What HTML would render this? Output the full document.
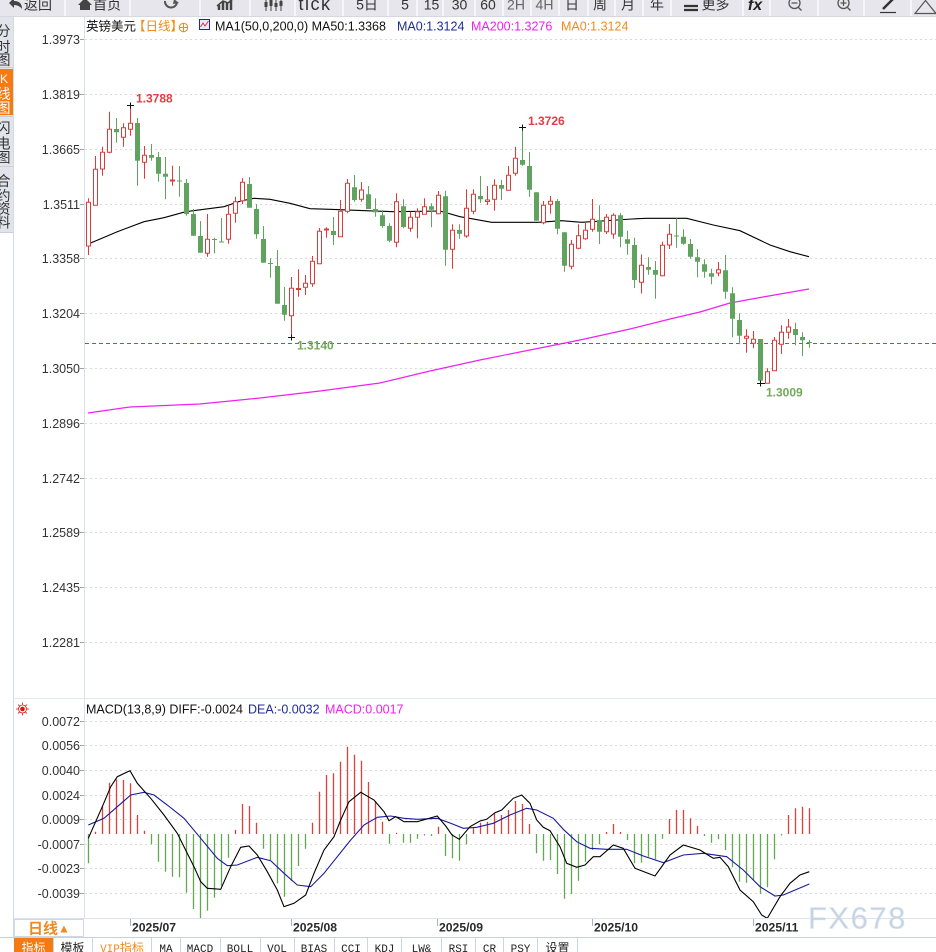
<!DOCTYPE html>
<html><head><meta charset="utf-8"><style>
html,body{margin:0;padding:0;background:#fff;width:936px;height:952px;overflow:hidden}
svg{display:block}
text{font-family:"Liberation Sans","Noto Sans CJK SC",sans-serif}
.mono{font-family:"Liberation Mono","Noto Sans CJK SC",monospace}
</style></head><body>
<svg width="936" height="952" viewBox="0 0 936 952" xmlns="http://www.w3.org/2000/svg">
<rect x="0" y="0" width="936" height="952" fill="#fff"/>
<!-- toolbar -->
<rect x="0" y="0" width="936" height="16.5" fill="#e6e6ec"/>
<line x1="0" y1="16.5" x2="936" y2="16.5" stroke="#d6d8de" stroke-width="1"/>
<g stroke="#fafafc" stroke-width="1.6">
<path d="M65 0V16M130 0V16M200 0V16M250 0V16M295 0V16M343 0V16M388 0V16M417 0V16M443 0V16M475 0V16M503 0V16M531 0V16M559 0V16M588 0V16M615 0V16M643 0V16M671 0V16M743 0V16M770 0V16M818 0V16M864 0V16M911 0V16"/>
</g>
<g fill="#333" font-size="14">
<text x="38" y="9.5" text-anchor="middle">返回</text>
<text x="107" y="9.5" text-anchor="middle">首页</text>
<text x="315" y="10" text-anchor="middle" font-size="18" letter-spacing="1.5">tick</text>
<text x="367" y="9.5" text-anchor="middle">5日</text>
<text x="405" y="9.5" text-anchor="middle">5</text>
<text x="431.5" y="9.5" text-anchor="middle">15</text>
<text x="459.5" y="9.5" text-anchor="middle">30</text>
<text x="488" y="9.5" text-anchor="middle">60</text>
<text x="516" y="9.5" text-anchor="middle" fill="#666">2H</text>
<text x="544.5" y="9.5" text-anchor="middle" fill="#666">4H</text>
<text x="572" y="9.5" text-anchor="middle">日</text>
<text x="600" y="9.5" text-anchor="middle">周</text>
<text x="628" y="9.5" text-anchor="middle">月</text>
<text x="657" y="9.5" text-anchor="middle">年</text>
<text x="715.5" y="9.5" text-anchor="middle">更多</text>
<text x="755" y="10" text-anchor="middle" font-size="16" font-weight="bold" font-style="italic" fill="#222">fx</text>
</g>
<!-- toolbar icons -->
<path d="M9 3 L14 -2 L14 1 Q22 1 22 9 Q19 5 14 5 L14 8 Z" fill="#444"/>
<path d="M78 5 L85 -2 L92 5 L90 5 L90 10 L80 10 L80 5 Z" fill="#444"/>
<path d="M165 1 A6 6 0 1 0 177 2" fill="none" stroke="#555" stroke-width="2"/>
<path d="M174 -1 L179 3 L173 4 Z" fill="#555"/>
<path d="M219 10V5M223 10V2M227 10V3M231 10V0" stroke="#444" stroke-width="2.5"/>
<path d="M217 6 L223 1 L228 3 L235 -3" fill="none" stroke="#444" stroke-width="1.5"/>
<path d="M266 -2V11M271 -2V11M276 -2V11M281 -2V11" stroke="#444" stroke-width="1"/>
<path d="M264.5 2h3v5h-3zM269.5 0h3v6h-3zM274.5 3h3v4h-3zM279.5 1h3v5h-3z" fill="#444"/>
<path d="M684 6h14M684 10h14" stroke="#333" stroke-width="2.2"/>
<circle cx="794.5" cy="3" r="5.5" fill="none" stroke="#555" stroke-width="1.3"/>
<path d="M791.5 3h6M798.5 7.5l3 3" stroke="#555" stroke-width="1.3"/>
<circle cx="843.5" cy="3" r="5.5" fill="none" stroke="#555" stroke-width="1.3"/>
<path d="M840.5 3h6M843.5 0v6M847.5 7.5l3 3" stroke="#555" stroke-width="1.3"/>
<path d="M883 9 L893 -1" stroke="#333" stroke-width="2.5"/>
<path d="M880 12.5h16" stroke="#333" stroke-width="1.2"/>
<path d="M915 13.5 L925.5 0.5 L936 13.5 Z" fill="none" stroke="#555" stroke-width="1.2"/>
<!-- left sidebar -->
<rect x="0" y="17" width="13" height="216" fill="#e1e4ea"/>
<rect x="0" y="69" width="13" height="46" fill="#f57a12"/>
<path d="M0 67.5h13M0 116.5h13M0 166.5h13M0 232.5h13" stroke="#c9ced8" stroke-width="1"/>
<line x1="13.5" y1="17" x2="13.5" y2="937" stroke="#d3dbe6" stroke-width="1"/>
<g font-size="14" text-anchor="middle" fill="#333">
<text x="3.5" y="36">分</text><text x="3.5" y="52">时</text><text x="3.5" y="65">图</text>
<text x="4" y="83" fill="#fff" font-family="Liberation Serif" font-size="12">K</text><text x="3.5" y="99" fill="#fff">线</text><text x="3.5" y="113" fill="#fff">图</text>
<text x="3.5" y="133">闪</text><text x="3.5" y="148.5">电</text><text x="3.5" y="162.5">图</text>
<text x="3.5" y="186">合</text><text x="3.5" y="201">约</text><text x="3.5" y="214">资</text><text x="3.5" y="227.5">料</text>
</g>
<!-- axes frames -->
<line x1="84.5" y1="17" x2="84.5" y2="919" stroke="#d9e1eb" stroke-width="1"/>
<line x1="14" y1="698.5" x2="936" y2="698.5" stroke="#e3e8ef" stroke-width="1"/>
<!-- price grid -->
<g stroke="#dadada" stroke-width="1" stroke-dasharray="2 3">
<path d="M85 39.5H936M85 94.5H936M85 149.5H936M85 204.5H936M85 258.5H936M85 313.5H936M85 368.5H936M85 423.5H936M85 478.5H936M85 532.5H936M85 587.5H936M85 642.5H936"/>
<path d="M85 721.5H936M85 745.5H936M85 770.5H936M85 795.5H936M85 819.5H936M85 844.5H936M85 868.5H936M85 893.5H936"/>
</g>
<g stroke="#9aa4b0" stroke-width="1">
<path d="M80 39.5h4M80 94.5h4M80 149.5h4M80 204.5h4M80 258.5h4M80 313.5h4M80 368.5h4M80 423.5h4M80 478.5h4M80 532.5h4M80 587.5h4M80 642.5h4"/>
<path d="M80 721.5h4M80 745.5h4M80 770.5h4M80 795.5h4M80 819.5h4M80 844.5h4M80 868.5h4M80 893.5h4"/>
</g>
<g font-size="12.5" fill="#333" text-anchor="end">
<text x="80" y="44">1.3973</text><text x="80" y="99">1.3819</text><text x="80" y="154">1.3665</text><text x="80" y="209">1.3511</text>
<text x="80" y="263">1.3358</text><text x="80" y="318">1.3204</text><text x="80" y="373">1.3050</text><text x="80" y="428">1.2896</text>
<text x="80" y="483">1.2742</text><text x="80" y="537">1.2589</text><text x="80" y="592">1.2435</text><text x="80" y="647">1.2281</text>
<text x="80" y="726">0.0072</text><text x="80" y="750">0.0056</text><text x="80" y="775">0.0040</text><text x="80" y="800">0.0024</text>
<text x="80" y="824">0.0009</text><text x="80" y="849">-0.0007</text><text x="80" y="873">-0.0023</text><text x="80" y="898">-0.0039</text>
</g>
<!-- legend -->
<g font-size="12.5">
<text x="86" y="30.7" fill="#111">英镑美元</text>
<text x="133" y="30.7" fill="#f08a1e">【日线】</text>
<text x="215" y="30.7" fill="#111">MA1(50,0,200,0) MA50:1.3368</text>
<text x="397" y="30.7" fill="#1f2a9a">MA0:1.3124</text>
<text x="471" y="30.7" fill="#ee22ee">MA200:1.3276</text>
<text x="561" y="30.7" fill="#f08a1e">MA0:1.3124</text>
</g>
<circle cx="183.5" cy="27.5" r="4.2" fill="none" stroke="#f08a1e" stroke-width="1"/>
<path d="M179.3 27.5h8.4M183.5 23.3v8.4" stroke="#f08a1e" stroke-width="1"/>
<rect x="199.5" y="19.5" width="10" height="10" fill="#e6ecff" stroke="#1a2a9a" stroke-width="1"/>
<path d="M200.5 27 L203 23 L205 26 L208.5 21" fill="none" stroke="#d33" stroke-width="1"/>
<!-- MA lines -->
<polyline fill="none" stroke="#ee22ee" stroke-width="1.2" points="88,413 130,407 200,404 260,398 320,391 380,383 430,371 480,360 530,350 580,340 630,329 670,319 700,312 730,303 763,297 809,289"/>
<polyline fill="none" stroke="#000" stroke-width="1.1" points="88.3,244 117.3,231.7 144,221.7 164,217.7 185.7,211.7 224,206.7 240.7,201 254,198.3 270,199.3 290,203.3 310,208.7 330,209.3 393.3,211.7 440,211 460,216.7 475,219.3 491.7,222.3 538.3,222.3 561.7,220.7 581.7,222.3 631.7,219 646.7,218.3 686.7,218.3 713.3,225 740,230.7 770,245 790,251.7 809,256.7"/>
<!-- current price dashed -->
<line x1="85" y1="343.5" x2="936" y2="343.5" stroke="#3a6fc0" stroke-width="1" stroke-dasharray="4 3"/>
<!-- candles: wicks -->
<path fill="none" stroke="#dd3b3b" stroke-width="1" d="M88.5 198.3V255M95.5 156V205.3M102.5 146.7V175.7M109.5 111.7V153.3M123.5 123.3V146.7M130.5 106V135.7M144.5 146V178.7M172.5 165.7V185.7M207.5 214V256.7M228.5 206V243.7M235.5 196.7V222.7M242.5 178.3V204M291.5 277V337M298.5 269.3V296.7M305.5 275V295M312.5 256V286.7M319.5 228V263.7M326.5 227.3V237.7M340.5 200V236.7M347.5 179V213.3M361.5 182V201.7M396.5 193.3V247.3M410.5 211.7V231.7M417.5 208.3V238.3M424.5 198.3V214.3M438.5 191V213.7M452.5 224.3V268.7M466.5 189.3V237.7M473.5 189.3V214.3M487.5 186V205M494.5 179.3V210.7M508.5 166V190.3M515.5 146.7V175.7M543.5 201V224.3M550.5 196V213.7M571.5 240V269.3M578.5 224.3V249.3M585.5 223V239.7M592.5 199V231.7M606.5 214V234M613.5 213.3V238.7M641.5 254.5V293.5M662.5 241.7V276.3M669.5 224V249M718.5 262V276.3M746.5 329.3V352.7M753.5 331V348.3M767.5 368.3V383.3M774.5 337V370.7M781.5 325.3V354M788.5 319V338.7"/>
<path fill="none" stroke="#5fa35f" stroke-width="1" d="M116.5 118V142.7M137.5 118V185.7M151.5 144V160.7M158.5 152V181.7M165.5 157V199.3M179.5 166V196.7M186.5 179V215.7M193.5 209V236M200.5 221V252.7M214.5 237.7V253.3M221.5 218V242.5M249.5 177V207.7M256.5 204V238.7M263.5 226V262.7M270.5 258.3V277.7M277.5 250V303.7M284.5 287V320.7M333.5 217V245M354.5 175V201.7M368.5 186V209M375.5 198.3V216.7M382.5 210V227.7M389.5 223.3V242.3M403.5 199.3V228.3M431.5 203.3V227.3M445.5 190.7V265.7M459.5 224.3V238.7M480.5 176V202.7M501.5 180V200M522.5 127.5V165.7M529.5 152V196.7M536.5 192.3V220.7M557.5 199V234.3M564.5 232.3V271.7M599.5 205.3V244M620.5 213.3V247.3M627.5 230.7V254.7M634.5 237.7V288M648.5 257.3V274.7M655.5 261V298.7M676.5 218.3V247.7M683.5 229.3V244.7M690.5 239V258.7M697.5 249V277.3M704.5 259.3V277.7M711.5 268.7V284.3M725.5 255V298.7M732.5 287.3V337.3M739.5 313.3V344.3M760.5 339V383.5M795.5 322.7V345.3M802.5 332.3V356.3M809.5 340V347.7"/>
<!-- candle bodies -->
<path fill="#fff" stroke="#dd3b3b" stroke-width="1" d="M86.5 202.3h4v43.7h-4zM93.5 169.3h4v36h-4zM100.5 152.3h4v16.7h-4zM107.5 129.3h4v23h-4zM121.5 127.7h4v9.6h-4zM128.5 123.3h4v6h-4zM142.5 155.3h4v7h-4zM170.5 180h4v1h-4zM205.5 239.3h4v14h-4zM226.5 214.3h4v25h-4zM233.5 201.7h4v11.6h-4zM240.5 182.3h4v18.4h-4zM289.5 288.3h4v27.4h-4zM296.5 288.5h4v1h-4zM303.5 283.3h4v4h-4zM310.5 261.3h4v22.4h-4zM317.5 231.3h4v32.4h-4zM324.5 229h4v1h-4zM338.5 211.3h4v25.4h-4zM345.5 183.3h4v28h-4zM359.5 190h4v9.3h-4zM394.5 201.7h4v40.6h-4zM408.5 217.3h4v11h-4zM415.5 211.7h4v5.6h-4zM422.5 206.7h4v7.6h-4zM436.5 195.3h4v18.4h-4zM450.5 230.3h4v19h-4zM464.5 208.3h4v27.7h-4zM471.5 194.3h4v17h-4zM485.5 200h4v1.5h-4zM492.5 185.3h4v14h-4zM506.5 175.3h4v15h-4zM513.5 158.3h4v15h-4zM541.5 205.3h4v17.4h-4zM548.5 201.3h4v3h-4zM569.5 244.3h4v22h-4zM576.5 235.7h4v12.6h-4zM583.5 230.3h4v8.4h-4zM590.5 219.3h4v10h-4zM604.5 217.3h4v14.4h-4zM611.5 215.3h4v18.7h-4zM639.5 265.3h4v17h-4zM660.5 245.3h4v30.4h-4zM667.5 234.3h4v10.7h-4zM716.5 269.7h4v3.3h-4zM744.5 336.3h4v2h-4zM751.5 339.3h4v4h-4zM765.5 371.7h4v11.6h-4zM772.5 340.3h4v30.4h-4zM779.5 332.3h4v12h-4zM786.5 327h4v5.3h-4z"/>
<path fill="#5fa35f" d="M114 129h5v3.3h-5zM135 123h5v37.7h-5zM149 155h5v2.7h-5zM156 157h5v16.7h-5zM163 173.7h5v3h-5zM177 180.5h5v1h-5zM184 183h5v31h-5zM191 214h5v21.7h-5zM198 236h5v16.7h-5zM212 239h5v1h-5zM219 241.5h5v1h-5zM247 184h5v23.7h-5zM254 209h5v25.3h-5zM261 239h5v23.7h-5zM268 263h5v1h-5zM275 266h5v37.7h-5zM282 305h5v9.7h-5zM331 231h5v4h-5zM352 187.3h5v12.7h-5zM366 194.3h5v14.7h-5zM373 209h5v3.3h-5zM380 215.3h5v10.7h-5zM387 226h5v14.7h-5zM401 206.3h5v20.7h-5zM429 206.3h5v3.4h-5zM443 196.3h5v53.4h-5zM457 230h5v3.7h-5zM478 196h5v3.3h-5zM499 185h5v3.7h-5zM520 160h5v4.7h-5zM527 166h5v23.7h-5zM534 192.3h5v28.4h-5zM555 201h5v27.7h-5zM562 232.3h5v33.4h-5zM597 220h5v11.7h-5zM618 215.3h5v21.4h-5zM625 239.3h5v4.4h-5zM632 245h5v35h-5zM646 267h5v2.7h-5zM653 270h5v4.7h-5zM674 235.5h5v1h-5zM681 236.7h5v7h-5zM688 244h5v12.7h-5zM695 257.3h5v4.4h-5zM702 264.3h5v7.4h-5zM709 273.3h5v3.4h-5zM723 270.3h5v21.4h-5zM730 293.3h5v25.4h-5zM737 320h5v15.7h-5zM758 339h5v41.7h-5zM793 329h5v6h-5zM800 337h5v3.3h-5zM807 342h5v1h-5z"/>
<!-- extreme markers -->
<path stroke="#111" stroke-width="1" d="M127 105.5h7M130.5 102.5v6M288 337.5h7M291.5 334.5v6M519 127.5h7M522.5 124.5v6M757 383.5h8M760.5 380.5v6"/>
<g font-size="12" font-weight="bold">
<text x="136" y="102.5" fill="#e23c44">1.3788</text>
<text x="528" y="125" fill="#e23c44">1.3726</text>
<text x="297" y="349.5" fill="#74a85a">1.3140</text>
<text x="766" y="396.5" fill="#74a85a">1.3009</text>
</g>
<!-- MACD legend -->
<circle cx="22.5" cy="709" r="2.3" fill="#e01010"/>
<circle cx="22.5" cy="709" r="4" fill="none" stroke="#e01010" stroke-width="0.8"/>
<path d="M22.5 702.5v2M22.5 713.5v2M16 709h2M27 709h2M18 704.5l1.5 1.5M25.5 712l1.5 1.5M27 704.5l-1.5 1.5M19.5 712L18 713.5" stroke="#e01010" stroke-width="0.8"/>
<g font-size="12.5">
<text x="86" y="713.5" fill="#111">MACD(13,8,9) DIFF:-0.0024</text>
<text x="248" y="713.5" fill="#1f2a9a">DEA:-0.0032</text>
<text x="325" y="713.5" fill="#ee22ee">MACD:0.0017</text>
</g>
<!-- MACD histogram -->
<path fill="none" stroke="#e0403a" stroke-width="1.3" d="M95.5 834V831.7M102.5 834V806M109.5 834V782.7M116.5 834V779.3M123.5 834V780M130.5 834V783.3M137.5 834V815M144.5 834V830.7M235.5 834V830M242.5 834V804M249.5 834V806M256.5 834V822.7M312.5 834V822.7M319.5 834V791.7M326.5 834V775M333.5 834V773.3M340.5 834V761.7M347.5 834V746.7M354.5 834V754.7M361.5 834V760.7M368.5 834V782M375.5 834V801M382.5 834V821.7M396.5 834V832.7M438.5 834V826.7M473.5 834V828.3M480.5 834V822.7M487.5 834V821.7M494.5 834V813.3M501.5 834V815M508.5 834V810M515.5 834V801M522.5 834V804M529.5 834V824M606.5 834V832M613.5 834V824M620.5 834V832M669.5 834V819M676.5 834V810M683.5 834V810M690.5 834V818.3M697.5 834V826M788.5 834V815M795.5 834V808.3M802.5 834V806.7M809.5 834V808.3"/>
<path fill="none" stroke="#62a852" stroke-width="1.3" d="M88.5 834V863.3M151.5 834V844.3M158.5 834V861.7M165.5 834V871.7M172.5 834V876.7M179.5 834V877.3M186.5 834V892.7M193.5 834V909M200.5 834V918M207.5 834V910.7M214.5 834V897.7M221.5 834V886M228.5 834V857.7M263.5 834V848.7M270.5 834V860M277.5 834V883.3M284.5 834V896.7M291.5 834V881M298.5 834V866M305.5 834V848.7M389.5 834V843.7M403.5 834V842.7M410.5 834V842.7M417.5 834V838.7M424.5 834V835.5M431.5 834V836M445.5 834V856M452.5 834V858.3M459.5 834V860.7M466.5 834V844.3M536.5 834V853.3M543.5 834V860.7M550.5 834V860M557.5 834V874M564.5 834V898.7M571.5 834V894M578.5 834V880.7M585.5 834V861.7M592.5 834V850M599.5 834V844.3M627.5 834V840M634.5 834V863.3M641.5 834V862.7M648.5 834V856.7M655.5 834V859.3M662.5 834V838.7M704.5 834V836M711.5 834V842.7M718.5 834V839.3M725.5 834V850M732.5 834V867.3M739.5 834V881.7M746.5 834V882.7M753.5 834V880M760.5 834V894M767.5 834V887.3M774.5 834V859.3M781.5 834V835.5"/>
<!-- DEA / DIFF -->
<polyline fill="none" stroke="#1a1aa0" stroke-width="1.1" points="88.3,825 104,818.3 117.3,806.7 130.7,795 144,792.3 154,795 167.3,805 184,818.3 200.7,838.3 217.3,858.3 227.3,865.7 237.3,865 257.3,857.3 270.7,860.7 284,873.3 297.3,885 310.7,886.7 324,873.3 337.3,856.7 350.7,840 364,825 377.3,817.3 390.7,816 404,818.3 417.3,819.3 437.3,818.3 450,823 463.3,828.3 476.7,827.3 493.3,823.3 510,815 526.7,808.3 536.7,810 553.3,818.3 563.3,829.3 576.7,841.7 590,848.3 606.7,849.3 626.7,849.3 643.3,856 663.3,862.7 683.3,855 703.3,853.3 726.7,856.7 743.3,870 760,886.7 775,896 783.3,895 809.3,884"/>
<polyline fill="none" stroke="#000" stroke-width="1.1" points="88.3,838.3 102.3,806.7 110.7,786.7 117.3,776.7 130,770.7 137.3,783.3 150.7,798.3 164,815 177.3,833.3 184,846.7 194,866.7 200.7,881.7 207.3,888.3 220.7,889.3 230.7,866.7 240.7,847.3 249,846 257.3,855 267.3,871.7 277.3,890 284,906.7 294,903.3 305.7,895 314,873.3 324,850 334,836.7 340.7,820 349,801.7 360.7,792.3 374,800 384,811.7 389,820.7 395.7,816.7 404,821.7 417.3,821.7 437.3,816 445.7,826 452,835 459.3,839.3 470,826.7 480,821 486.7,819.3 495,812.7 501.7,810 513.3,798.3 521.7,795 530,803.3 536.7,820 543.3,827.3 550,830.7 560,846.7 566.7,863.3 576.7,867.3 585,865 593.3,856.7 600,856.7 613.3,845 623.3,848.3 635,868.3 655,876 670,855 683.3,845 700,850 713.3,858.3 720,857.3 728.3,866.7 740,890 753.3,901.7 761.7,915 767.3,918.3 780,896.7 790,883.3 800,875 809.3,871.7"/>
<!-- x axis -->
<rect x="14" y="919" width="922" height="18" fill="#fff"/>
<line x1="14" y1="918.5" x2="936" y2="918.5" stroke="#dde3ec" stroke-width="1"/>
<rect x="14.5" y="919.5" width="69" height="17" fill="#fff" stroke="#cfd7e2" stroke-width="1"/>
<text x="28" y="933.5" font-size="15" font-weight="bold" fill="#f08a1e">日线</text>
<text x="58" y="932.5" font-size="12" fill="#f08a1e">▲</text>
<path d="M130.5 919v7M291.5 919v7M437.5 919v7M592.5 919v7M753.5 919v7" stroke="#aab4c0" stroke-width="1"/>
<g font-size="12.2" font-weight="bold" fill="#2a2a2a">
<text x="132" y="931.5">2025/07</text>
<text x="293" y="931.5">2025/08</text>
<text x="439" y="931.5">2025/09</text>
<text x="594" y="931.5">2025/10</text>
<text x="755" y="931.5">2025/11</text>
</g>
<text x="808" y="928.5" font-size="31" fill="#c6d3e3" letter-spacing="1.5" stroke="#dfe7f1" stroke-width="0.6">FX678</text>
<!-- bottom tab bar -->
<line x1="0" y1="937.5" x2="936" y2="937.5" stroke="#c8d0dc" stroke-width="1"/>
<rect x="14" y="938" width="39" height="14" fill="#f57a12"/>
<path d="M53.5 938v14M92.5 938v14M151.5 938v14M180.5 938v14M220.5 938v14M260.5 938v14M294.5 938v14M334.5 938v14M367.5 938v14M401.5 938v14M441.5 938v14M475.5 938v14M503.5 938v14M537.5 938v14M577.5 938v14" stroke="#cdd5e0" stroke-width="1"/>
<g font-size="12" text-anchor="middle" fill="#222">
<text x="33.5" y="952" fill="#fff">指标</text>
<text x="72.5" y="952">模板</text>
<text x="122" y="952" fill="#f08a1e"><tspan class="mono" font-size="11">VIP</tspan>指标</text>
<text class="mono" font-size="11" x="166" y="952">MA</text>
<text class="mono" font-size="11" x="200" y="952">MACD</text>
<text class="mono" font-size="11" x="240" y="952">BOLL</text>
<text class="mono" font-size="11" x="277" y="952">VOL</text>
<text class="mono" font-size="11" x="314" y="952">BIAS</text>
<text class="mono" font-size="11" x="351" y="952">CCI</text>
<text class="mono" font-size="11" x="384.5" y="952">KDJ</text>
<text class="mono" font-size="11" x="421.5" y="952">LW&amp;</text>
<text class="mono" font-size="11" x="458.5" y="952">RSI</text>
<text class="mono" font-size="11" x="489.5" y="952">CR</text>
<text class="mono" font-size="11" x="520.5" y="952">PSY</text>
<text x="557.5" y="952">设置</text>
</g>
</svg>
</body></html>
